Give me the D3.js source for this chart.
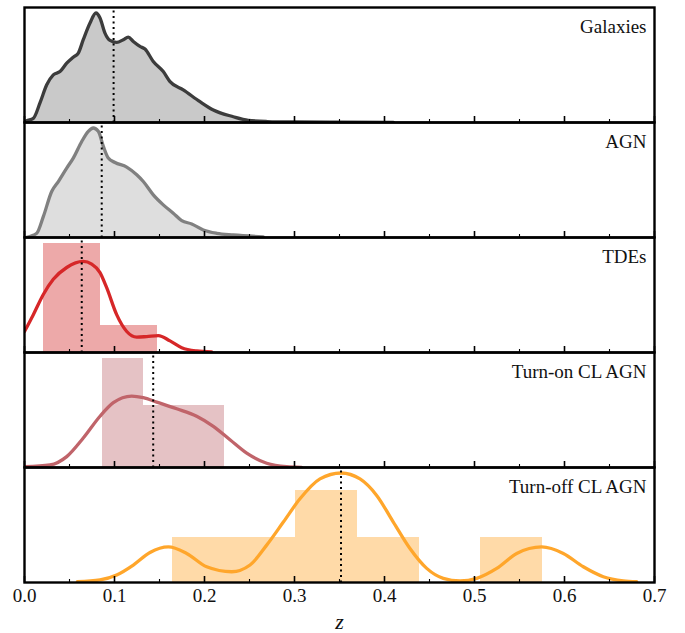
<!DOCTYPE html>
<html>
<head>
<meta charset="utf-8">
<script src="https://cdn.jsdelivr.net/npm/d3@7"></script>
<style>
  html, body { margin: 0; padding: 0; background: #ffffff; }
  svg { display: block; }
</style>
</head>
<body>
<div id="chart"></div>
<script>
// ---------------- DATA ----------------
const panelNames = ["Galaxies", "AGN", "TDEs", "Turn-on CL AGN", "Turn-off CL AGN"];
const xTicks = [0.0, 0.1, 0.2, 0.3, 0.4, 0.5, 0.6, 0.7];
const xTickLabels = ["0.0", "0.1", "0.2", "0.3", "0.4", "0.5", "0.6", "0.7"];
const medians = [0.099, 0.0858, 0.0636, 0.143, 0.3517];

// KDE curves: [z, density]
const kdeGalaxies = [
  [0.000, 0.05], [0.0024, 0.15], [0.0098, 0.35], [0.0172, 1.63], [0.0247, 3.13], [0.032, 3.96],
  [0.0394, 4.23], [0.0469, 4.93], [0.0542, 5.43], [0.0598, 5.77], [0.0653, 6.88], [0.0728, 8.27],
  [0.0794, 9.10], [0.0839, 8.68], [0.0894, 7.43], [0.095, 6.82], [0.1024, 6.65], [0.1098, 6.88],
  [0.1153, 7.10], [0.1209, 6.73], [0.1283, 6.32], [0.1339, 6.10], [0.1431, 5.07], [0.1542, 4.23],
  [0.1617, 3.40], [0.1764, 2.71], [0.195, 1.73], [0.2098, 1.04], [0.232, 0.48], [0.2487, 0.18],
  [0.27, 0.08], [0.30, 0.04], [0.35, 0.02], [0.41, 0.01]
];
const kdeAGN = [
  [0.0024, 0.02], [0.0136, 0.35], [0.0209, 1.73], [0.0302, 3.82], [0.0376, 4.65], [0.0469, 5.77],
  [0.0542, 6.60], [0.0636, 7.98], [0.0709, 8.82], [0.0764, 9.10], [0.082, 8.82], [0.0876, 7.57],
  [0.0931, 6.60], [0.1006, 6.23], [0.1136, 5.85], [0.1247, 5.21], [0.132, 4.65], [0.1431, 3.54],
  [0.1542, 2.71], [0.1653, 2.02], [0.1747, 1.40], [0.1858, 1.13], [0.1987, 0.63], [0.2136, 0.35],
  [0.232, 0.21], [0.2653, 0.05]
];
const kdeTDE = [
  [0.000, 2.08], [0.0098, 3.75], [0.0209, 5.75], [0.032, 7.25], [0.0469, 8.42], [0.0653, 9.02],
  [0.0747, 8.75], [0.0839, 7.92], [0.0913, 6.42], [0.1024, 3.75], [0.1136, 2.08], [0.1247, 1.52],
  [0.1358, 1.58], [0.1487, 1.68], [0.1617, 1.15], [0.1747, 0.48], [0.1913, 0.15], [0.208, 0.05]
];
const kdeTurnOn = [
  [0.0006, 0.08], [0.0283, 0.25], [0.0469, 1.08], [0.0653, 2.92], [0.0839, 5.08], [0.0987, 6.42],
  [0.1191, 7.08], [0.132, 6.92], [0.1469, 6.48], [0.1691, 5.82], [0.1913, 5.08], [0.2098, 4.08],
  [0.2283, 2.75], [0.2469, 1.42], [0.2691, 0.42], [0.2913, 0.08], [0.308, 0.02]
];
const kdeTurnOff = [
  [0.0587, 0.04], [0.0839, 0.13], [0.1024, 0.38], [0.1209, 0.88], [0.1394, 1.51], [0.1598, 1.79],
  [0.1802, 1.46], [0.2024, 0.79], [0.2302, 0.54], [0.2506, 0.88], [0.2691, 1.88], [0.2876, 3.04],
  [0.3061, 4.21], [0.3283, 5.21], [0.3517, 5.51], [0.3728, 5.21], [0.3913, 4.38], [0.4098, 3.04],
  [0.4283, 1.71], [0.4469, 0.71], [0.4653, 0.21], [0.4839, 0.08], [0.5024, 0.21], [0.5247, 0.71],
  [0.5469, 1.46], [0.5747, 1.79], [0.5987, 1.46], [0.6209, 0.79], [0.6431, 0.29], [0.6653, 0.08],
  [0.6802, 0.04]
];

// Histograms: bin edges and heights (density)
const histTDEEdges = [0.0209, 0.0839, 0.1469];
const histTDEHeights = [10.85, 2.68];
const histTurnOnEdges = [0.0858, 0.1313, 0.1768, 0.2222];
const histTurnOnHeights = [10.85, 6.2, 6.2];
const histTurnOffEdges = [0.1639, 0.2324, 0.3009, 0.3694, 0.4379, 0.5064, 0.5749];
const histTurnOffHeights = [2.28, 2.28, 4.63, 2.28, 0, 2.28];

// ---------------- LAYOUT ----------------
const W = 685, H = 633;
const mLeft = 24.5, mRight = 654.5, mTop = 7.5, panelH = 115;

const panels = [
  { name: panelNames[0], kde: kdeGalaxies, edges: null, heights: null, median: medians[0],
    line: "#3c3c3c", fill: "#c9c9c9", bar: null },
  { name: panelNames[1], kde: kdeAGN, edges: null, heights: null, median: medians[1],
    line: "#808080", fill: "#dedede", bar: null },
  { name: panelNames[2], kde: kdeTDE, edges: histTDEEdges, heights: histTDEHeights, median: medians[2],
    line: "#d62728", fill: null, bar: "#eda9a9" },
  { name: panelNames[3], kde: kdeTurnOn, edges: histTurnOnEdges, heights: histTurnOnHeights, median: medians[3],
    line: "#c0646a", fill: null, bar: "#e5c2c5" },
  { name: panelNames[4], kde: kdeTurnOff, edges: histTurnOffEdges, heights: histTurnOffHeights, median: medians[4],
    line: "#ffa62b", fill: null, bar: "#ffdaa8" }
];

const svg = d3.select("#chart").append("svg").attr("width", W).attr("height", H);
const x = d3.scaleLinear().domain([0, 0.7]).range([mLeft, mRight]);

const serif = "'Liberation Serif', 'Times New Roman', 'DejaVu Serif', serif";

panels.forEach((p, i) => {
  const y0 = mTop + i * panelH, y1 = y0 + panelH;
  const maxKde = d3.max(p.kde, d => d[1]);
  const maxHist = p.heights ? d3.max(p.heights) : 0;
  const ymax = Math.max(maxKde, maxHist) * 1.05;
  const y = d3.scaleLinear().domain([0, ymax]).range([y1, y0]);

  const clipId = "clip" + i;
  svg.append("clipPath").attr("id", clipId)
    .append("rect").attr("x", mLeft).attr("y", y0).attr("width", mRight - mLeft).attr("height", panelH);
  const g = svg.append("g").attr("clip-path", `url(#${clipId})`);

  // histogram bars
  if (p.edges) {
    const bins = p.heights.map((h, k) => ({ x0: p.edges[k], x1: p.edges[k + 1], h }));
    g.selectAll("rect.bar").data(bins.filter(b => b.h > 0)).enter().append("rect")
      .attr("class", "bar")
      .attr("x", d => Math.round(x(d.x0)))
      .attr("width", d => Math.round(x(d.x1)) - Math.round(x(d.x0)))
      .attr("y", d => y(d.h))
      .attr("height", d => y(0) - y(d.h))
      .attr("fill", p.bar)
      .attr("shape-rendering", "crispEdges");
  }

  // filled area
  if (p.fill) {
    const area = d3.area().x(d => x(d[0])).y0(y(0)).y1(d => y(d[1])).curve(d3.curveMonotoneX);
    g.append("path").datum(p.kde).attr("d", area).attr("fill", p.fill);
  }

  // KDE line
  const line = d3.line().x(d => x(d[0])).y(d => y(d[1])).curve(d3.curveMonotoneX);
  g.append("path").datum(p.kde).attr("d", line)
    .attr("fill", "none").attr("stroke", p.line).attr("stroke-width", 3.3)
    .attr("stroke-linejoin", "round").attr("stroke-linecap", "round");

  // median dotted line
  g.append("line")
    .attr("x1", x(p.median)).attr("x2", x(p.median))
    .attr("y1", y1).attr("y2", y0)
    .attr("stroke", "#000").attr("stroke-width", 2).attr("stroke-dasharray", "2,3.5");

  // ticks (inward, bottom only)
  const major = xTicks;
  const minor = d3.range(0.05, 0.7, 0.1);
  svg.append("g").selectAll("line.maj").data(major).enter().append("line")
    .attr("x1", d => x(d)).attr("x2", d => x(d))
    .attr("y1", y1).attr("y2", y1 - 6.5)
    .attr("stroke", "#000").attr("stroke-width", 1.6);
  svg.append("g").selectAll("line.min").data(minor).enter().append("line")
    .attr("x1", d => x(d)).attr("x2", d => x(d))
    .attr("y1", y1).attr("y2", y1 - 3.5)
    .attr("stroke", "#000").attr("stroke-width", 1.1);

  // frame
  svg.append("rect").attr("x", mLeft).attr("y", y0).attr("width", mRight - mLeft).attr("height", panelH)
    .attr("fill", "none").attr("stroke", "#000").attr("stroke-width", 2.4);

  // label
  svg.append("text").attr("x", mRight - 8).attr("y", y0 + 25)
    .attr("text-anchor", "end").attr("font-family", serif).attr("font-size", 19)
    .attr("fill", "#111").text(p.name);
});

// x tick labels
const bottomY = mTop + panels.length * panelH;
svg.append("g").selectAll("text").data(xTicks).enter().append("text")
  .attr("x", d => x(d)).attr("y", bottomY + 19.5)
  .attr("text-anchor", "middle").attr("font-family", serif).attr("font-size", 19)
  .attr("fill", "#111").text((d, k) => xTickLabels[k]);

// axis label
svg.append("text").attr("x", (mLeft + mRight) / 2).attr("y", bottomY + 46)
  .attr("text-anchor", "middle").attr("font-family", serif).attr("font-style", "italic")
  .attr("font-size", 22).attr("fill", "#111").text("z");
</script>
</body>
</html>
